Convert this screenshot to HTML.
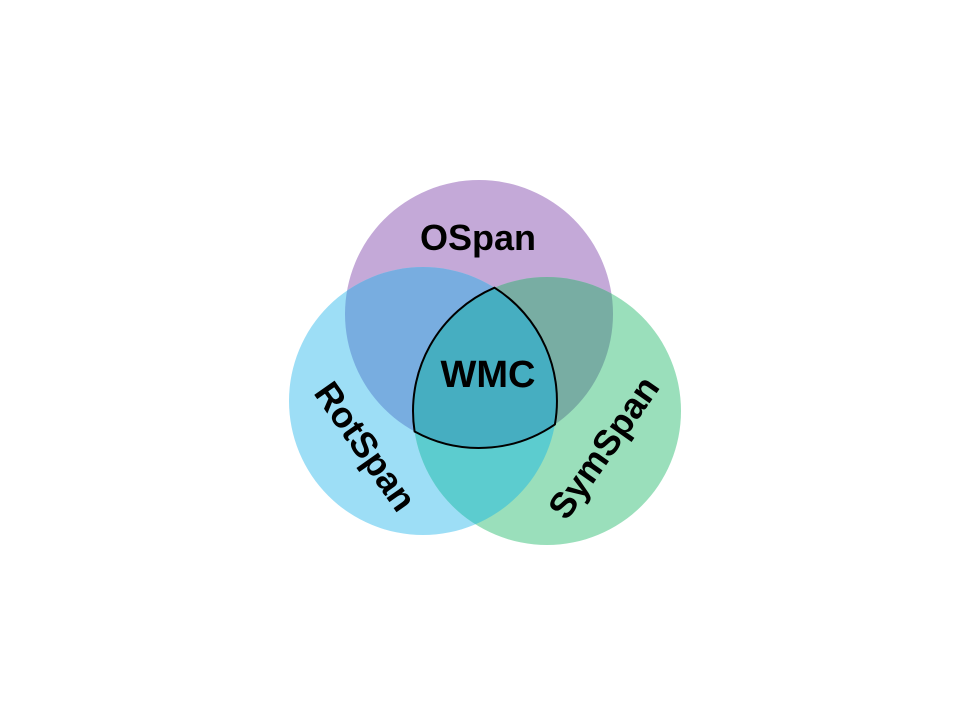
<!DOCTYPE html>
<html><head><style>body{margin:0;background:#fff}svg{display:block}</style></head>
<body>
<svg width="960" height="720" viewBox="0 0 960 720" xmlns="http://www.w3.org/2000/svg">
<defs>
<clipPath id="cp"><circle cx="479" cy="314" r="134"/></clipPath>
<clipPath id="cb"><circle cx="423" cy="401" r="134"/></clipPath>
</defs>
<rect width="960" height="720" fill="#fff"/>
<circle cx="479" cy="314" r="134" fill="#c4a9d8"/>
<circle cx="423" cy="401" r="134" fill="#9ddef6"/>
<circle cx="547" cy="411" r="134" fill="#9adfbb"/>
<g clip-path="url(#cp)"><circle cx="423" cy="401" r="134" fill="#78ade0"/></g>
<g clip-path="url(#cp)"><circle cx="547" cy="411" r="134" fill="#78ada3"/></g>
<g clip-path="url(#cb)"><circle cx="547" cy="411" r="134" fill="#5ccccf"/></g>
<path d="M494.5,287.7 A134 134 0 0 1 554.9,424.4 A134 134 0 0 1 414.6,431.5 A134 134 0 0 1 494.5,287.7 Z" fill="#46aec1" stroke="#000" stroke-width="2"/>
<g font-family="Liberation Sans, sans-serif" font-weight="bold" fill="#000" text-anchor="middle" font-size="36">
<text x="478" y="250">OSpan</text>
<text x="488" y="387" font-size="38">WMC</text>
<text transform="translate(366,446) rotate(55)" y="13">RotSpan</text>
<text transform="translate(603,447) rotate(-55)" y="13">SymSpan</text>
</g>
</svg>
</body></html>
